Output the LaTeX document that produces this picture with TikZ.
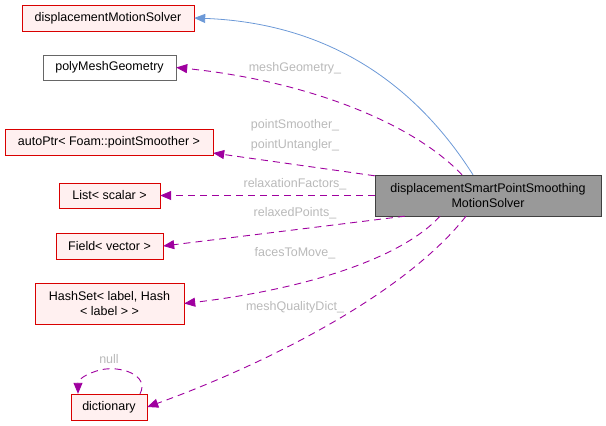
\documentclass[tikz,border=0pt]{standalone}
\usepackage{fontspec}
\setmainfont{Liberation Sans}
\usetikzlibrary{arrows.meta}
\begin{document}
\begin{tikzpicture}[x=1pt,y=-1pt,
  every node/.style={font=\fontsize{12.5}{15}\selectfont},
  cls/.style={draw=red!85!black, fill=red!6, inner sep=0, text=black, align=center},
  pl/.style={draw=gray!80!black, fill=white, inner sep=0},
  mem/.style={draw=violet!75!magenta, dashed, dash pattern=on 7pt off 5pt, line width=0.9pt, -{Triangle[length=11pt,width=9pt]}},
  lbl/.style={text=gray!55, font=\fontsize{12.5}{15}\selectfont}]
\useasboundingbox (0,0) rectangle (606,426);
\node[cls, minimum width=172pt, minimum height=26pt] (dms) at (108,18) {displacementMotionSolver};
\node[pl, minimum width=133pt, minimum height=25pt] (pmg) at (109.5,67.5) {polyMeshGeometry};
\node[cls, minimum width=208pt, minimum height=26pt] (ap) at (109,142) {autoPtr< Foam::pointSmoother >};
\node[cls, minimum width=101pt, minimum height=25pt] (ls) at (109.5,195.5) {List< scalar >};
\node[cls, minimum width=107pt, minimum height=26pt] (fv) at (109.5,246) {Field< vector >};
\node[cls, minimum width=149pt, minimum height=41pt] (hs) at (109.5,303.5) {HashSet< label, Hash\\< label > >};
\node[cls, minimum width=76pt, minimum height=26pt] (dc) at (109,407) {dictionary};
\node[draw=gray!50!black, fill=gray!80, minimum width=226pt, minimum height=41pt, inner sep=0, align=center] (main) at (488,195.5) {displacementSmartPointSmoothing\\MotionSolver};

\draw[color=cyan!50!blue!60, line width=0.8pt, -{Triangle[length=11pt,width=9pt]}] (main.north -| 473,0) .. controls (400,60) and (300,22) .. (dms.east);
\draw[mem] (main.north -| 462,0) .. controls (410,120) and (300,80) .. (pmg.east);
\draw[mem] (main.north west) ++(0,1) -- (ap.south east |- 0,153);
\draw[mem] (main.west) -- (ls.east);
\draw[mem] (main.south west) ++(30,0) -- (fv.east);
\draw[mem] (main.south -| 440,0) .. controls (400,260) and (300,290) .. (hs.east);
\draw[mem] (main.south -| 466,0) .. controls (400,300) and (250,370) .. (dc.east);
\draw[mem] (dc.north -| 140,0) .. controls (150,375) and (120,365) .. (100,370) .. controls (85,374) and (78,380) .. (dc.north -| 78,0);

\node[lbl] (l1) at (295,68) {meshGeometry\_};
\node[lbl] (l2) at (295,125) {pointSmoother\_};
\node[lbl] (l3) at (295,145) {pointUntangler\_};
\node[lbl] (l4) at (295,184) {relaxationFactors\_};
\node[lbl] (l5) at (295,213) {relaxedPoints\_};
\node[lbl] (l6) at (295,253) {facesToMove\_};
\node[lbl] (l7) at (295,307) {meshQualityDict\_};
\node[lbl] (l8) at (109,359) {null};
\end{tikzpicture}
\end{document}
